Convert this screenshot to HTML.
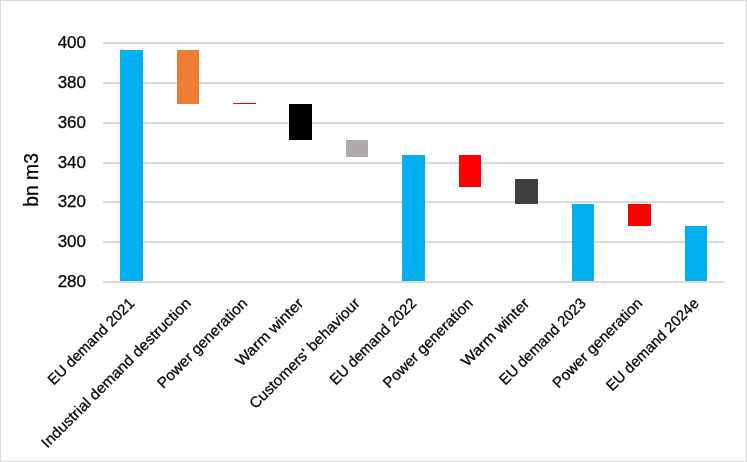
<!DOCTYPE html>
<html><head><meta charset="utf-8"><style>
html,body{margin:0;padding:0;background:#fff;}
svg{display:block;will-change:transform;}
text{font-family:"Liberation Sans",sans-serif;fill:#000;stroke:#000;stroke-width:0.25px;}
</style></head><body>
<svg width="747" height="462" viewBox="0 0 747 462" shape-rendering="crispEdges">
<rect x="0.5" y="0.5" width="746" height="461" fill="#fff" stroke="#D9D9D9" stroke-width="1"/>
<rect x="103" y="42" width="621" height="2" fill="#D9D9D9"/>
<rect x="103" y="82" width="621" height="2" fill="#D9D9D9"/>
<rect x="103" y="122" width="621" height="2" fill="#D9D9D9"/>
<rect x="103" y="162" width="621" height="2" fill="#D9D9D9"/>
<rect x="103" y="201" width="621" height="2" fill="#D9D9D9"/>
<rect x="103" y="241" width="621" height="2" fill="#D9D9D9"/>
<rect x="103" y="281" width="621" height="2" fill="#D9D9D9"/>
<rect x="120" y="50" width="23" height="231" fill="#00B0F0"/>
<rect x="177" y="50" width="22" height="54" fill="#ED7D31"/>
<rect x="233" y="103" width="23" height="1" fill="#FF0000"/>
<rect x="289" y="104" width="23" height="36" fill="#000000"/>
<rect x="346" y="140" width="22" height="17" fill="#AEAAAA"/>
<rect x="402" y="155" width="23" height="126" fill="#00B0F0"/>
<rect x="459" y="155" width="22" height="32" fill="#FF0000"/>
<rect x="515" y="179" width="23" height="25" fill="#404040"/>
<rect x="572" y="204" width="22" height="77" fill="#00B0F0"/>
<rect x="628" y="204" width="23" height="22" fill="#FF0000"/>
<rect x="685" y="226" width="22" height="55" fill="#00B0F0"/>
<text x="86" y="48.1" text-anchor="end" font-size="17">400</text>
<text x="86" y="88.1" text-anchor="end" font-size="17">380</text>
<text x="86" y="128.1" text-anchor="end" font-size="17">360</text>
<text x="86" y="168.1" text-anchor="end" font-size="17">340</text>
<text x="86" y="207.1" text-anchor="end" font-size="17">320</text>
<text x="86" y="247.1" text-anchor="end" font-size="17">300</text>
<text x="86" y="287.1" text-anchor="end" font-size="17">280</text>
<text transform="translate(37.6,179.9) rotate(-90)" text-anchor="middle" font-size="20" textLength="53.5" lengthAdjust="spacingAndGlyphs">bn m3</text>
<text transform="translate(135.25,304.25) rotate(-45)" text-anchor="end" font-size="15" textLength="115.3" lengthAdjust="spacingAndGlyphs">EU demand 2021</text>
<text transform="translate(191.75,304.25) rotate(-45)" text-anchor="end" font-size="15" textLength="204.2" lengthAdjust="spacingAndGlyphs">Industrial demand destruction</text>
<text transform="translate(248.25,304.25) rotate(-45)" text-anchor="end" font-size="15" textLength="120.2" lengthAdjust="spacingAndGlyphs">Power generation</text>
<text transform="translate(304.25,304.25) rotate(-45)" text-anchor="end" font-size="15" textLength="88.9" lengthAdjust="spacingAndGlyphs">Warm winter</text>
<text transform="translate(360.75,304.25) rotate(-45)" text-anchor="end" font-size="15" textLength="148.8" lengthAdjust="spacingAndGlyphs">Customers&#39; behaviour</text>
<text transform="translate(417.25,304.25) rotate(-45)" text-anchor="end" font-size="15" textLength="115.3" lengthAdjust="spacingAndGlyphs">EU demand 2022</text>
<text transform="translate(473.75,304.25) rotate(-45)" text-anchor="end" font-size="15" textLength="119.9" lengthAdjust="spacingAndGlyphs">Power generation</text>
<text transform="translate(530.25,304.25) rotate(-45)" text-anchor="end" font-size="15" textLength="89.0" lengthAdjust="spacingAndGlyphs">Warm winter</text>
<text transform="translate(586.75,304.25) rotate(-45)" text-anchor="end" font-size="15" textLength="115.2" lengthAdjust="spacingAndGlyphs">EU demand 2023</text>
<text transform="translate(643.25,304.25) rotate(-45)" text-anchor="end" font-size="15" textLength="119.8" lengthAdjust="spacingAndGlyphs">Power generation</text>
<text transform="translate(699.75,304.25) rotate(-45)" text-anchor="end" font-size="15" textLength="123.6" lengthAdjust="spacingAndGlyphs">EU demand 2024e</text>
</svg>
</body></html>
